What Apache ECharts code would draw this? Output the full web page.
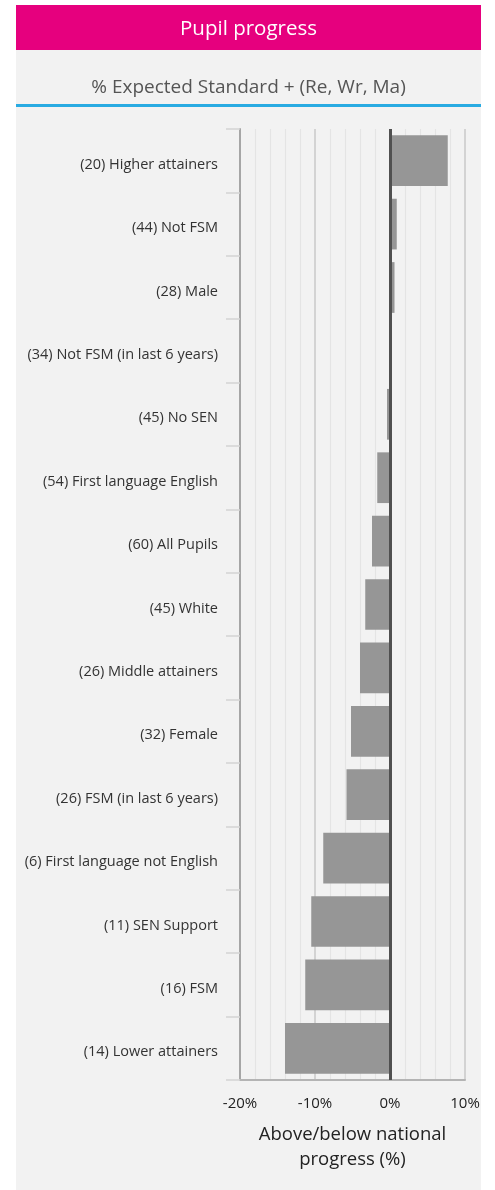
<!DOCTYPE html>
<html>
<head>
<meta charset="utf-8">
<script src="https://cdn.jsdelivr.net/npm/echarts@6/dist/echarts.min.js"></script>
<style>
html,body{margin:0;padding:0;background:#fff;}
#c{width:495px;height:1190px;}
</style>
</head>
<body>
<div id="c"></div>
<script>
const categories = [
  "(20) Higher attainers",
  "(44) Not FSM",
  "(28) Male",
  "(34) Not FSM (in last 6 years)",
  "(45) No SEN",
  "(54) First language English",
  "(60) All Pupils",
  "(45) White",
  "(26) Middle attainers",
  "(32) Female",
  "(26) FSM (in last 6 years)",
  "(6) First language not English",
  "(11) SEN Support",
  "(16) FSM",
  "(14) Lower attainers"
];
const values = [7.7, 0.9, 0.6, 0, -0.4, -1.7, -2.4, -3.3, -4.0, -5.2, -5.8, -8.9, -10.5, -11.3, -14.0];
const xTicks = [-20, -10, 0, 10];
const titleText = "Pupil progress";
const subtitleText = "% Expected Standard + (Re, Wr, Ma)";
const axisName = "Above/below national\nprogress (%)";

const FONT = "'Open Sans', Lato, sans-serif";
const chart = echarts.init(document.getElementById('c'), null, {renderer: 'canvas'});
chart.setOption({
  animation: false,
  backgroundColor: '#ffffff',
  graphic: [
    {type: 'rect', z: -10, shape: {x: 16, y: 5, width: 465, height: 1185}, style: {fill: '#f2f2f2'}},
    {type: 'rect', z: -5, shape: {x: 16, y: 5, width: 465, height: 45}, style: {fill: '#e6007e'}},
    {type: 'text', z: 5, x: 248.5, y: 29, style: {text: titleText, fill: '#ffffff', font: '20.5px ' + FONT, align: 'center', verticalAlign: 'middle'}},
    {type: 'text', z: 5, x: 248.5, y: 88, style: {text: subtitleText, fill: '#555555', font: '19px ' + FONT, align: 'center', verticalAlign: 'middle'}},
    {type: 'rect', z: -5, shape: {x: 16, y: 104, width: 465, height: 3}, style: {fill: '#29abe2'}}
  ],
  grid: {left: 240, right: 30, top: 129, bottom: 110, containLabel: false},
  xAxis: {
    type: 'value', min: -20, max: 10, interval: 10,
    axisLine: {show: true, onZero: false, lineStyle: {color: '#b4b4b4', width: 2}},
    axisTick: {show: false},
    axisLabel: {color: '#222', fontSize: 15, fontFamily: FONT, margin: 16,
      formatter: v => xTicks.includes(v) ? v + '%' : ''},
    splitLine: {show: true, lineStyle: {color: '#c8c8c8', width: 1.5}},
    minorTick: {show: false, splitNumber: 5},
    minorSplitLine: {show: true, lineStyle: {color: '#e4e4e4', width: 1.2}},
    name: axisName, nameLocation: 'middle', nameGap: 42,
    nameTextStyle: {color: '#222', fontSize: 18.5, fontFamily: FONT, lineHeight: 25}
  },
  yAxis: {
    type: 'category', data: categories, inverse: true,
    axisLine: {show: true, onZero: false, lineStyle: {color: '#a6a6a6', width: 2}},
    axisTick: {show: true, length: 14, lineStyle: {color: '#d4d4d4', width: 1.5}},
    axisLabel: {
      margin: 22,
      formatter: v => '{a|' + v + '}',
      rich: {a: {color: '#333', fontSize: 14.5, fontFamily: FONT, padding: [8, 0, 0, 0]}}
    },
    splitLine: {show: false}
  },
  series: [{
    type: 'bar', data: values, barCategoryGap: '20%',
    itemStyle: {color: '#969696'},
    markLine: {
      silent: true, symbol: 'none', label: {show: false},
      lineStyle: {color: '#505050', width: 3, type: 'solid'},
      data: [{xAxis: 0}]
    }
  }]
});
</script>
</body>
</html>
